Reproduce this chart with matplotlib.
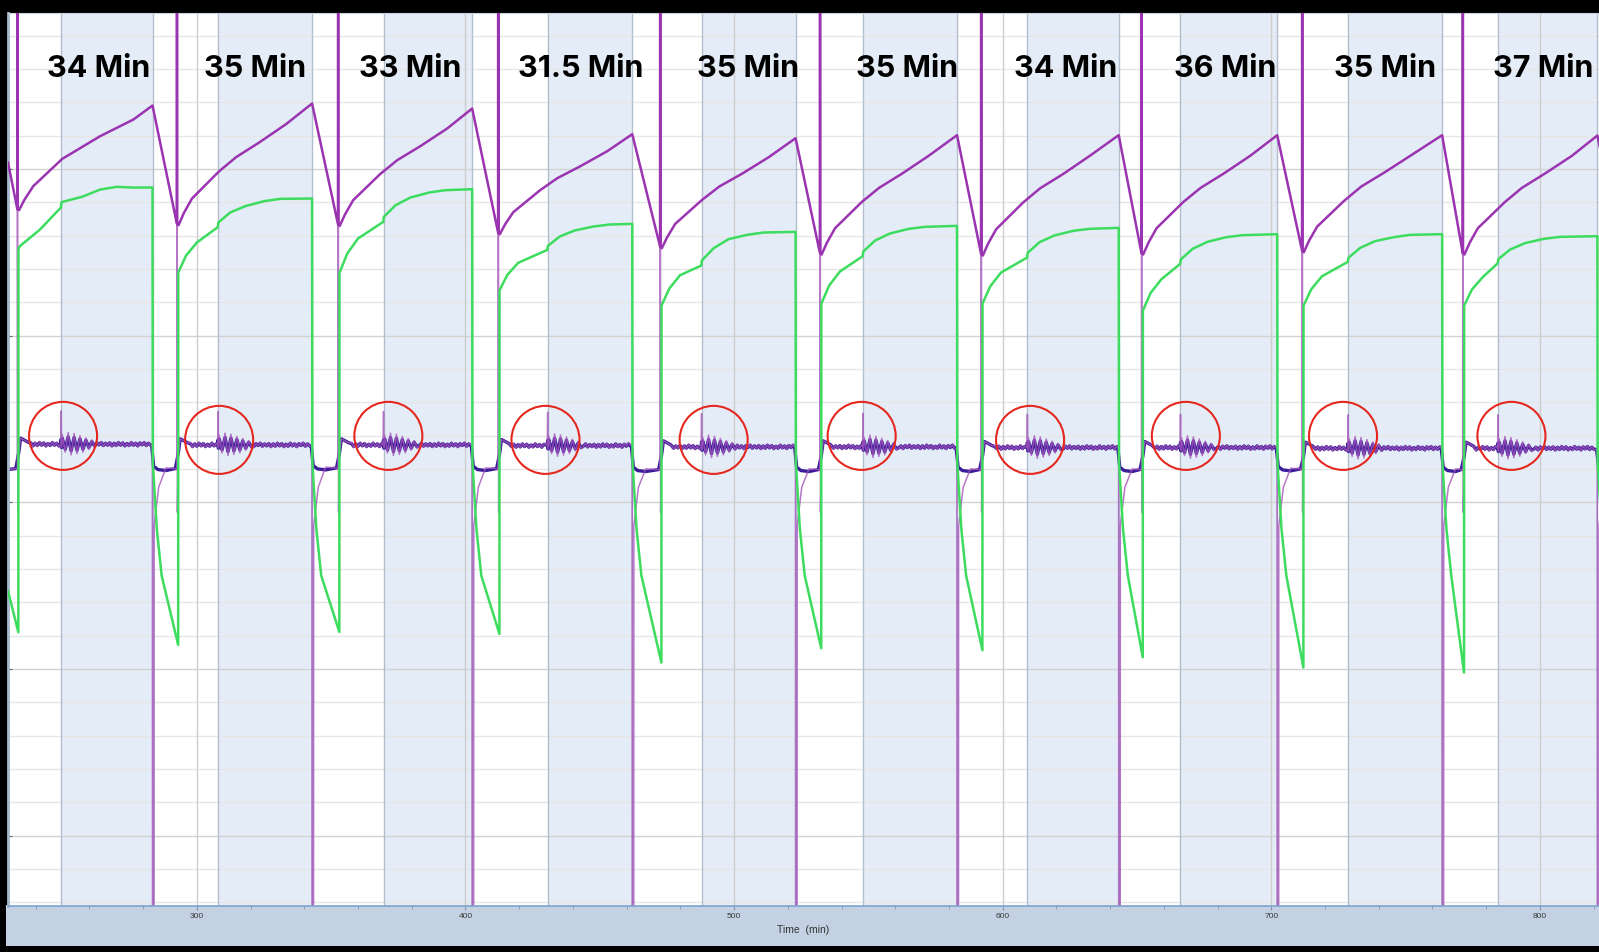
import matplotlib
matplotlib.use("Agg")
import matplotlib.pyplot as plt
from matplotlib.ticker import MultipleLocator

# cycle events on the time axis (min)
spike_t = [233.2, 292.6, 352.6, 412.2, 472.5, 532.0, 592.0, 651.7, 711.5, 771.3]
drop_t = [283.5, 342.9, 402.5, 462.1, 522.9, 583.0, 643.2, 702.2, 763.6, 821.4]
hold_min = [34, 35, 33, 31.5, 35, 35, 34, 36, 35, 37]
hold_labels = ["%g Min" % m for m in hold_min]
band_start = [d - h for d, h in zip(drop_t, hold_min)]

# upper (purple) trace
mag_t = [229.7, 233.15, 233.2, 233.3, 233.8, 235.8, 239.1, 249.9, 264.0, 276.4, 283.5,
         292.55, 292.6, 292.68, 293.2, 295.2, 298.2, 308.2, 314.6, 323.2, 333.2, 342.9,
         352.55, 352.6, 352.68, 353.2, 355.2, 358.2, 368.2, 374.6, 383.2, 393.2, 402.5,
         412.15, 412.2, 412.28, 412.8, 414.8, 417.8, 427.8, 434.2, 442.8, 452.8, 462.1,
         472.45, 472.5, 472.58, 473.1, 475.1, 478.1, 488.1, 494.5, 503.1, 513.1, 522.9,
         531.95, 532.0, 532.08, 532.6, 534.6, 537.6, 547.6, 554.0, 562.6, 572.6, 583.0,
         591.95, 592.0, 592.08, 592.6, 594.6, 597.6, 607.6, 614.0, 622.6, 632.6, 643.2,
         651.65, 651.7, 651.78, 652.3, 654.3, 657.3, 667.3, 673.7, 682.3, 692.3, 702.2,
         711.45, 711.5, 711.58, 712.1, 714.1, 717.1, 727.1, 733.5, 742.1, 752.1, 763.6,
         771.25, 771.3, 771.38, 771.9, 773.9, 776.9, 786.9, 793.3, 801.9, 811.9, 821.4, 823.0]
mag_v = [20.19, 18.8, 40, 18.78, 18.76, 19.07, 19.48, 20.3, 20.98, 21.48, 21.9,
         18.36, 40, 18.34, 18.31, 18.68, 19.11, 19.92, 20.35, 20.79, 21.34, 21.96,
         18.34, 40, 18.32, 18.29, 18.64, 19.06, 19.84, 20.26, 20.68, 21.21, 21.81,
         18.09, 40, 18.07, 18.04, 18.34, 18.70, 19.36, 19.72, 20.08, 20.53, 21.04,
         17.67, 40, 17.65, 17.62, 17.95, 18.35, 19.07, 19.47, 19.86, 20.36, 20.92,
         17.48, 40, 17.46, 17.43, 17.79, 18.22, 19.01, 19.43, 19.86, 20.40, 21.01,
         17.45, 40, 17.43, 17.40, 17.76, 18.19, 18.99, 19.42, 19.85, 20.40, 21.01,
         17.48, 40, 17.46, 17.43, 17.79, 18.22, 19.01, 19.43, 19.86, 20.40, 21.01,
         17.55, 40, 17.53, 17.50, 17.85, 18.27, 19.04, 19.47, 19.89, 20.41, 21.01,
         17.48, 40, 17.46, 17.43, 17.79, 18.22, 19.00, 19.43, 19.86, 20.39, 21.00, 20.4]

# green trace
green_t = [229.7, 233.55, 233.6, 234.1, 241.6, 249.4, 249.6, 257.6, 264.0, 270.2, 276.2, 283.5,
           283.6, 285.1, 286.9, 293.05,
           293.1, 296.0, 300.0, 307.8, 308.0, 312.4, 318.0, 325.0, 331.0, 342.9,
           343.0, 344.5, 346.3, 353.05,
           353.1, 356.0, 360.0, 369.4, 369.6, 374.0, 379.5, 386.5, 392.5, 402.5,
           402.6, 404.1, 405.9, 412.65,
           412.7, 415.6, 419.6, 430.5, 430.7, 435.1, 440.6, 447.6, 453.6, 462.1,
           462.2, 463.7, 465.5, 472.95,
           473.0, 475.9, 479.9, 487.8, 488.0, 492.4, 497.9, 504.9, 510.9, 522.9,
           523.0, 524.5, 526.3, 532.45,
           532.5, 535.4, 539.4, 547.9, 548.1, 552.5, 558.0, 565.0, 571.0, 583.0,
           583.1, 584.6, 586.4, 592.45,
           592.5, 595.4, 599.4, 609.1, 609.3, 613.7, 619.2, 626.2, 632.2, 643.2,
           643.3, 644.8, 646.6, 652.15,
           652.2, 655.1, 659.1, 666.1, 666.3, 670.7, 676.2, 683.2, 689.2, 702.2,
           702.3, 703.8, 705.6, 711.95,
           712.0, 714.9, 718.9, 728.5, 728.7, 733.1, 738.6, 745.6, 751.6, 763.6,
           763.7, 765.2, 767.0, 771.75,
           771.8, 774.7, 778.7, 784.3, 784.5, 788.9, 794.4, 801.4, 807.4, 821.4,
           821.5, 823.0]
green_v = [7.34, 6.1, 17.6, 17.68, 18.18, 18.84, 19.0, 19.17, 19.38, 19.46, 19.44, 19.44,
           11.2, 9.2, 7.8, 5.72,
           16.89, 17.4, 17.79, 18.25, 18.39, 18.69, 18.88, 19.03, 19.10, 19.11,
           11.2, 9.2, 7.8, 6.11,
           16.88, 17.46, 17.91, 18.41, 18.56, 18.91, 19.14, 19.29, 19.36, 19.39,
           11.2, 9.2, 7.8, 6.05,
           16.36, 16.82, 17.18, 17.57, 17.69, 17.97, 18.15, 18.27, 18.33, 18.35,
           11.2, 9.2, 7.8, 5.19,
           15.90, 16.41, 16.81, 17.10, 17.25, 17.62, 17.89, 18.02, 18.09, 18.11,
           11.2, 9.2, 7.8, 5.62,
           15.96, 16.50, 16.92, 17.38, 17.52, 17.85, 18.06, 18.20, 18.26, 18.29,
           11.2, 9.2, 7.8, 5.56,
           15.96, 16.48, 16.89, 17.34, 17.48, 17.80, 18.00, 18.14, 18.20, 18.23,
           11.2, 9.2, 7.8, 5.35,
           15.75, 16.28, 16.69, 17.15, 17.28, 17.60, 17.81, 17.95, 18.01, 18.04,
           11.2, 9.2, 7.8, 5.04,
           15.90, 16.39, 16.78, 17.21, 17.33, 17.63, 17.83, 17.95, 18.02, 18.04,
           11.2, 9.2, 7.8, 4.89,
           15.90, 16.38, 16.75, 17.17, 17.29, 17.58, 17.77, 17.90, 17.96, 17.98,
           11.2, 9.2]

# lower (blue) trace levels per cycle
blue_level = [11.74, 11.72, 11.72, 11.70, 11.66, 11.66, 11.64, 11.64, 11.62, 11.62]
blue_dip = [10.98, 11.00, 10.98, 10.95, 10.95, 10.95, 10.95, 10.97, 10.95, 11.00]
recover_dt = [0.5, 1.2, 2.2, 4.0]
recover_dv = [-0.25, 0.18, 0.14, 0.06]
ring_dt = [0.4, 1.5, 2.6, 3.7, 4.8, 5.9, 7.0, 8.1, 9.2, 10.3, 11.4, 12.5]
ring_dv = [0.18, -0.15, 0.22, -0.2, 0.2, -0.18, 0.16, -0.15, 0.12, -0.1, 0.08, -0.06]
fuzz_dv = [0.04, -0.05, 0.03, -0.04, 0.05, -0.03, 0.04, -0.05, 0.02, -0.04,
           0.05, -0.03, 0.03, -0.05, 0.04, -0.02, 0.05, -0.04, 0.03, -0.03]

# where the hand-drawn circles sit, relative to the hold start (min)
circle_shift = [0.7, 0.4, 1.8, -0.8, 4.5, -0.5, 1.0, 2.0, -1.9, 5.0]
circle_y = [11.99, 11.87, 11.99, 11.87, 11.87, 11.99, 11.87, 11.99, 11.99, 11.99]
label_shift = [-3.2, -3.7, -6.6, -3.5, -0.3, -1.2, -2.6, -1.4, -3.7, -1.8]


def lower_trace(gain, spikes):
    t, v = [229.7], [10.98]
    k = 0
    for c in range(len(spike_t)):
        S, B, D = spike_t[c], band_start[c], drop_t[c]
        lvl, dip = blue_level[c], blue_dip[c]
        prev = blue_dip[c - 1] if c else 10.98
        t.append(S - 0.6); v.append(prev + 0.03)
        if spikes:
            t += [S - 0.05, S, S + 0.15]; v += [prev, 40, 9.7]
        for dt, dv in zip(recover_dt, recover_dv):
            t.append(S + dt); v.append(lvl + dv)
        x = S + 5.0
        while x < B - 0.6:
            t.append(x); v.append(lvl + gain * fuzz_dv[k % len(fuzz_dv)])
            k += 1; x += 0.8
        t += [B - 0.15, B, B + 0.12]
        v += [lvl, lvl + (1.0 if spikes else 0.15), lvl - 0.1]
        for dt, dv in zip(ring_dt, ring_dv):
            t.append(B + dt); v.append(lvl + gain * dv)
        x = B + 13.3
        while x < D - 0.6:
            t.append(x); v.append(lvl + gain * fuzz_dv[k % len(fuzz_dv)])
            k += 1; x += 0.8
        if spikes:
            t += [D - 0.05, D, D + 0.55, D + 0.6, D + 2.3, D + 5.0]
            v += [lvl - 0.03, -5, -5, 9.3, 10.45, dip + 0.05]
        else:
            t += [D - 0.3, D + 0.4, D + 2.0, D + 5.0]
            v += [lvl - 0.04, dip + 0.1, dip, dip - 0.03]
    return t, v


fig = plt.figure(figsize=(15.99, 9.52), dpi=100, facecolor="black")

# axis strip under the plot
axb = fig.add_axes([6 / 1599, 6 / 952, 1593 / 1599, 41 / 952])
axb.set_facecolor("#c3d1e3")
axb.set_xticks([])
axb.set_yticks([])
for sp in axb.spines.values():
    sp.set_visible(False)

ax = fig.add_axes([8 / 1599, 46.4 / 952, 1591 / 1599, 893.1 / 952])
ax.set_facecolor("white")
ax.set_xlim(229.7, 822.0)
ax.set_ylim(-2.1, 24.69)

for y in range(-2, 25):
    ax.axhline(y, color="#d2d2d2" if y % 5 == 0 else "#e6e6e6", lw=1.0, zorder=0.5)
for b, d in zip(band_start, drop_t):
    ax.axvspan(b, d, color="#e4edf7", lw=0, zorder=0)
for x in range(300, 900, 100):
    ax.axvline(x, color="#cdcdcd", lw=1.0, zorder=0.6)
for b, d in zip(band_start, drop_t):
    ax.axvline(b, color="#b2bdce", lw=1.0, zorder=0.7)
    ax.axvline(d, color="#b2bdce", lw=1.0, zorder=0.7)

bt, bv = lower_trace(1.0, False)
pt, pv = lower_trace(1.6, True)
ax.plot(bt, bv, color="#3b1d9a", lw=2.4, zorder=2)
ax.plot(pt, pv, color="#a455ba", lw=1.1, alpha=0.8, zorder=2.5)
ax.plot(green_t, green_v, color="#3ddc5f", lw=1.8, zorder=3)
ax.plot(mag_t, mag_v, color="#9b34b0", lw=1.8, zorder=4)

ax.scatter([b + s for b, s in zip(band_start, circle_shift)], circle_y, s=2400,
           facecolors="none", edgecolors="#e5281f", linewidths=1.5, zorder=6)

for b, h, lab, s in zip(band_start, hold_min, hold_labels, label_shift):
    ax.text(b + h / 2 + s, 22.77, lab, ha="center", va="baseline", fontsize=22,
            fontweight="bold", family=["Inter", "DejaVu Sans"], color="black", zorder=7)

ax.set_xticks(range(300, 900, 100))
ax.xaxis.set_minor_locator(MultipleLocator(20))
ax.tick_params(axis="x", which="major", length=3, color="#7d96b8", labelsize=6,
               labelcolor="#3a3a3a", pad=2)
ax.tick_params(axis="x", which="minor", length=2, color="#7d96b8")
ax.set_yticks([0, 5, 10, 15, 20])
ax.set_yticklabels([])
ax.tick_params(axis="y", length=3, direction="in", color="#666666")
for lab in ax.get_xticklabels():
    lab.set_family(["Liberation Sans", "DejaVu Sans"])
ax.set_xlabel("Time  (min)", fontsize=7.5, color="#333333", labelpad=4,
              family=["Liberation Sans", "DejaVu Sans"])

ax.spines["left"].set_color("#a6b8cf")
ax.spines["left"].set_linewidth(2)
ax.spines["top"].set_color("#c8d4e2")
ax.spines["right"].set_visible(False)
ax.spines["bottom"].set_color("#7fa3cf")
ax.spines["bottom"].set_linewidth(1.2)

fig.savefig("out.png", dpi=100, facecolor=fig.get_facecolor())
